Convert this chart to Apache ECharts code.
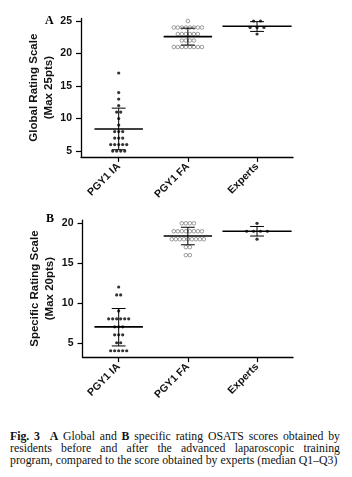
<!DOCTYPE html>
<html>
<head>
<meta charset="utf-8">
<script src="https://cdn.jsdelivr.net/npm/echarts@6/dist/echarts.min.js"></script>
<style>
  body { margin: 0; background: #fff; }
  #main { width: 352px; height: 420px; }
  #caption {
    position: absolute; left: 10px; top: 431px; width: 330px;
    font-family: "Liberation Serif", "DejaVu Serif", serif;
    font-size: 11.78px; line-height: 12px; color: #111;
    text-align: justify; text-align-last: left;
  }
</style>
</head>
<body>
<div id="main"></div>
<div id="caption"><b>Fig. 3</b>&nbsp; <b>A</b> Global and <b>B</b> specific rating OSATS scores obtained by residents before and after the advanced laparoscopic training program, compared to the score obtained by experts (median Q1–Q3)</div>
<script>
var catNames = ['PGY1 IA', 'PGY1 FA', 'Experts'];

// A - global rating scale
var globalIA = [17, 14, 13, 12, 11, 11, 10, 9, 8, 8, 8, 7, 7, 7, 6, 6, 6, 6, 6, 5, 5, 5, 5];
var globalFA = [25, 24, 24, 24, 24, 24, 24, 24, 24, 23, 23, 23, 23, 23, 23, 22, 22, 22, 22,
  21, 21, 21, 21, 21, 21, 21, 21];
var globalExp = [25, 25, 24, 24, 24, 23];
var globalMid = [8.4, 22.6, 24.2];
var globalLow = [5.2, 21.3, 23.4];
var globalHigh = [11.6, 23.9, 24.9];

// B - specific rating scale
var specificIA = [12, 11, 11, 9, 8, 8, 8, 8, 8, 8, 7, 7, 7, 6, 6, 6, 5, 5, 4, 4, 4, 4, 4];
var specificFA = [20, 20, 20, 20, 19, 19, 19, 19, 19, 19, 19, 19, 18, 18, 18, 18, 18, 18, 18, 18, 18,
  17, 17, 16, 16];
var specificExp = [20, 19, 19, 19, 19, 18];
var specificMid = [7.0, 18.4, 19.0];
var specificLow = [4.6, 17.3, 18.4];
var specificHigh = [9.3, 19.5, 19.6];

var yTicksA = [5, 10, 15, 20, 25];
var yTicksB = [5, 10, 15, 20];

// spread points with the same score side by side around the column centre
function swarm(vals, xc, step) {
  var count = {}, seen = {}, out = [];
  vals.forEach(function (v) { count[v] = (count[v] || 0) + 1; });
  vals.forEach(function (v) {
    var i = seen[v] || 0;
    seen[v] = i + 1;
    out.push([xc + (i - (count[v] - 1) / 2) * step, v]);
  });
  return out;
}

function barData(mid, low, high) {
  return mid.map(function (m, i) { return [i + 1, m, low[i], high[i]]; });
}

// half length of the centre line, per column
var midHalf = [0.35, 0.35, 0.5];

function renderBar(params, api) {
  var x = api.value(0);
  var w = midHalf[params.dataIndex], c = 0.1;
  var stroke = { stroke: '#000', lineWidth: 1 };
  var m0 = api.coord([x - w, api.value(1)]), m1 = api.coord([x + w, api.value(1)]);
  var lo = api.coord([x, api.value(2)]), hi = api.coord([x, api.value(3)]);
  var l0 = api.coord([x - c, api.value(2)]), l1 = api.coord([x + c, api.value(2)]);
  var h0 = api.coord([x - c, api.value(3)]), h1 = api.coord([x + c, api.value(3)]);
  return {
    type: 'group',
    children: [
      { type: 'line', shape: { x1: m0[0], y1: m0[1], x2: m1[0], y2: m1[1] }, style: { stroke: '#000', lineWidth: 1.6 } },
      { type: 'line', shape: { x1: lo[0], y1: lo[1], x2: hi[0], y2: hi[1] }, style: stroke },
      { type: 'line', shape: { x1: l0[0], y1: l0[1], x2: l1[0], y2: l1[1] }, style: stroke },
      { type: 'line', shape: { x1: h0[0], y1: h0[1], x2: h1[0], y2: h1[1] }, style: stroke }
    ]
  };
}

var axisFont = { fontFamily: 'Liberation Sans', fontWeight: 'bold', color: '#111' };
var axisLine = { show: true, lineStyle: { color: '#000', width: 1.3 } };

function xAxisFor(idx, min) {
  return {
    type: 'value', gridIndex: idx, min: min, max: 3.52,
    axisLine: axisLine,
    axisTick: { show: true, length: 5, customValues: [1, 2, 3], lineStyle: { color: '#000', width: 1.2 } },
    axisLabel: Object.assign({
      customValues: [1, 2, 3], rotate: 45, fontSize: 10.5, margin: 8,
      formatter: function (v) { return catNames[Math.round(v) - 1]; }
    }, axisFont),
    splitLine: { show: false }
  };
}

function yAxisFor(idx, min, max, ticks, name) {
  return {
    type: 'value', gridIndex: idx, min: min, max: max,
    name: name, nameLocation: 'middle', nameRotate: 90, nameGap: 25, nameMoveOverlap: false,
    nameTextStyle: Object.assign({ fontSize: 11.5, lineHeight: 15 }, axisFont),
    axisLine: axisLine,
    axisTick: { show: true, length: 5, customValues: ticks, lineStyle: { color: '#000', width: 1.2 } },
    axisLabel: Object.assign({ customValues: ticks, fontSize: 10.5, margin: 9 }, axisFont),
    splitLine: { show: false }
  };
}

function dots(xi, yi, pts, open) {
  return {
    type: 'scatter', xAxisIndex: xi, yAxisIndex: yi, data: pts,
    symbol: 'circle', symbolSize: open ? 3.6 : 3.2, silent: true,
    itemStyle: open ? { color: '#fff', borderColor: '#666', borderWidth: 0.8 } : { color: '#000' }
  };
}

var chart = echarts.init(document.getElementById('main'), null, { renderer: 'canvas' });

var option = {
  animation: false,
  title: [
    { text: 'A', left: 45, top: 15, textStyle: { fontFamily: 'Liberation Serif', fontWeight: 'bold', fontSize: 12, color: '#000' }, padding: 0 },
    { text: 'B', left: 46, top: 213, textStyle: { fontFamily: 'Liberation Serif', fontWeight: 'bold', fontSize: 12, color: '#000' }, padding: 0 }
  ],
  grid: [
    { left: 81, right: 59, top: 18.4, height: 138.5 },
    { left: 82.5, right: 59, top: 220.1, height: 137 }
  ],
  xAxis: [xAxisFor(0, 0.455), xAxisFor(1, 0.477)],
  yAxis: [
    yAxisFor(0, 4.1, 25.4, yTicksA, 'Global Rating Scale\n(Max 25pts)'),
    yAxisFor(1, 3.2, 20.4, yTicksB, 'Specific Rating Scale\n(Max 20pts)')
  ],
  series: [
    dots(0, 0, swarm(globalIA, 1, 0.058), false),
    dots(0, 0, swarm(globalFA, 2, 0.058), true),
    dots(0, 0, swarm(globalExp, 3, 0.1), false),
    { type: 'custom', xAxisIndex: 0, yAxisIndex: 0, data: barData(globalMid, globalLow, globalHigh), renderItem: renderBar, silent: true, z: 3 },
    dots(1, 1, swarm(specificIA, 1, 0.058), false),
    dots(1, 1, swarm(specificFA, 2, 0.058), true),
    dots(1, 1, swarm(specificExp, 3, 0.1), false),
    { type: 'custom', xAxisIndex: 1, yAxisIndex: 1, data: barData(specificMid, specificLow, specificHigh), renderItem: renderBar, silent: true, z: 3 }
  ]
};

chart.setOption(option);
</script>
</body>
</html>
